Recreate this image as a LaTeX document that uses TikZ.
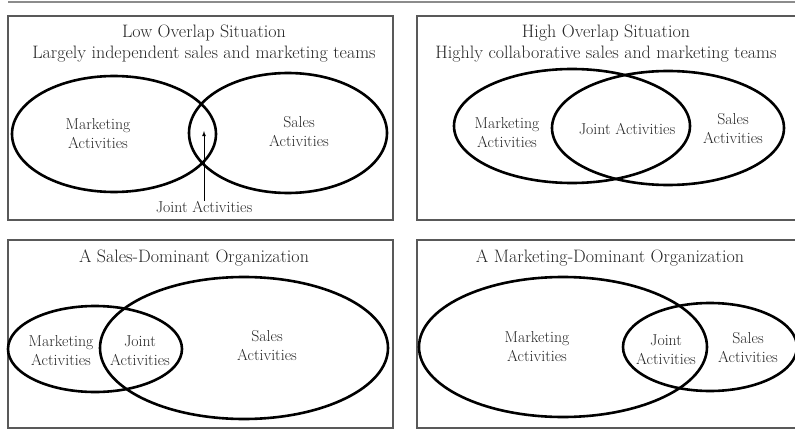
\documentclass[tikz,border=0pt]{standalone}
\usepackage{tikz}
\usepackage{xcolor}

\begin{document}
\begin{tikzpicture}[x=1pt,y=-1pt]
	\tikzstyle{panel} = [draw=black!65, line width=1.1]
	\tikzstyle{venn} = [draw=black, line width=2.6]
	\tikzstyle{txt} = [text=black!85, font=\fontsize{15.8}{19}\selectfont, align=center, inner sep=0]
	\tikzstyle{head} = [txt, font=\fontsize{18}{21}\selectfont]
	\useasboundingbox (0,0) rectangle (795,441);
	\draw[draw=black!45, line width=2] (8,2) -- (795,2);
	% the four boxes
	\draw[panel] (8,16) rectangle (393,220);
	\draw[panel] (800,16) -| (417,220) -- (800,220);
	\draw[panel] (8,240) rectangle (393,428);
	\draw[panel] (800,240) -| (417,428) -- (800,428);
	% low overlap
	\draw[venn] (114,134) ellipse (102 and 58);
	\draw[venn] (288,133) ellipse (99 and 60);
		\node[head] (lowt) at (204,43.5) {Low Overlap Situation\\Largely independent sales and marketing teams};
		\node[txt] (lowm) at (98,134) {Marketing\\Activities};
		\node[txt] (lows) at (299,132) {Sales\\Activities};
		\node[txt] (lowj) at (204,207) {Joint Activities};
		\coordinate (lowtip) at (204,131);
	\draw[line width=0.8, -latex] (lowj.north) -- (lowtip);
	% high overlap
	\draw[venn] (572,126) ellipse (118 and 57);
	\draw[venn] (668,128) ellipse (116 and 57);
		\node[head] (hight) at (606,43.5) {High Overlap Situation\\Highly collaborative sales and marketing teams};
		\node[txt] (highm) at (507,133) {Marketing\\Activities};
		\node[txt] (highj) at (627,129) {Joint Activities};
		\node[txt] (highs) at (733,129) {Sales\\Activities};
	% sales dominant
	\draw[venn] (95,349) ellipse (87 and 43);
	\draw[venn] (244,348) ellipse (144 and 71);
		\node[head] (salt) at (194,258) {A Sales-Dominant Organization};
		\node[txt] (salm) at (61,351) {Marketing\\Activities};
		\node[txt] (salj) at (140,351) {Joint\\Activities};
		\node[txt] (sals) at (267,346) {Sales\\Activities};
	% marketing dominant
	\draw[venn] (563,347) ellipse (144 and 70);
	\draw[venn] (710,347) ellipse (87 and 44);
		\node[head] (mktt) at (610,258) {A Marketing-Dominant Organization};
		\node[txt] (mktm) at (537,347) {Marketing\\Activities};
		\node[txt] (mktj) at (666,350) {Joint\\Activities};
		\node[txt] (mkts) at (748,348) {Sales\\Activities};
\end{tikzpicture}
\end{document}
